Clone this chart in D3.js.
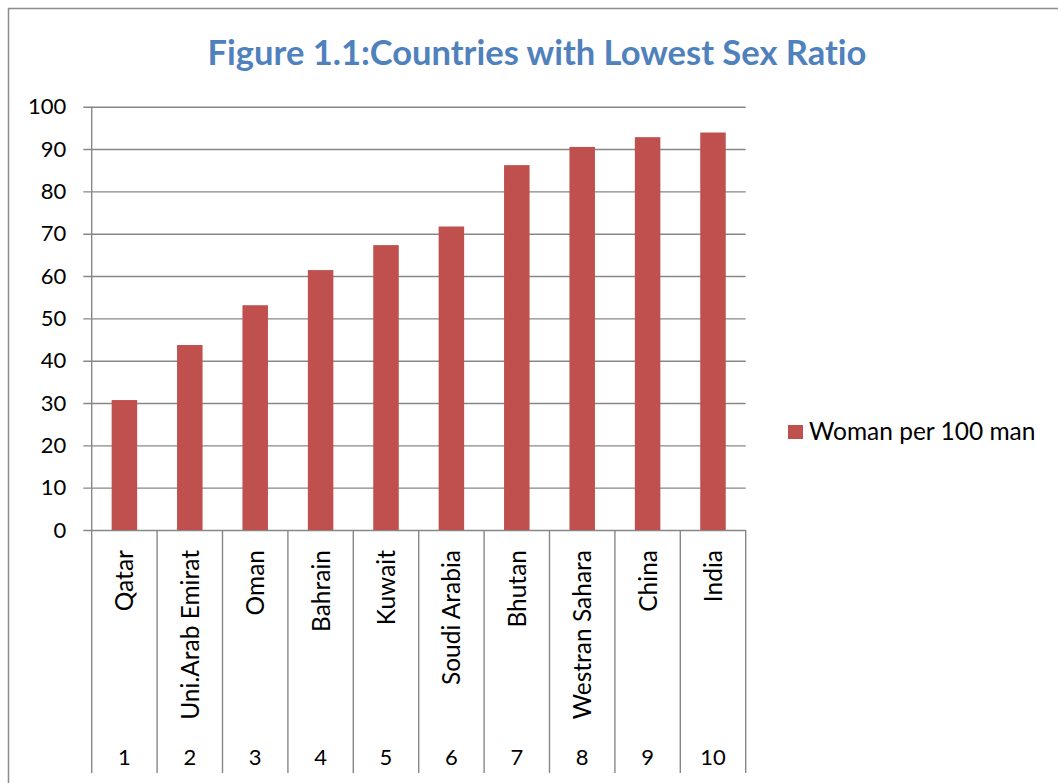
<!DOCTYPE html>
<html>
<head>
<meta charset="utf-8">
<script src="https://cdn.jsdelivr.net/npm/d3@7"></script>
<style>
  html, body { margin: 0; padding: 0; background: #fff; }
  svg { display: block; }
  text { font-family: Lato, "Open Sans", sans-serif; font-variant-ligatures: none; }
</style>
</head>
<body>
<svg id="chart" width="1058" height="783"></svg>
<script>
const title = "Figure 1.1:Countries with Lowest Sex Ratio";
const countries = ["Qatar", "Uni.Arab Emirat", "Oman", "Bahrain", "Kuwait", "Soudi Arabia", "Bhutan", "Westran Sahara", "China", "India"];
const ranks = ["1", "2", "3", "4", "5", "6", "7", "8", "9", "10"];
const values = [30.7, 43.7, 53.1, 61.4, 67.3, 71.7, 86.2, 90.5, 92.8, 93.9];
const yTicks = [0, 10, 20, 30, 40, 50, 60, 70, 80, 90, 100];
const seriesName = "Woman per 100 man";

const svg = d3.select("#chart");
const gridColor = "#878787";
const barColor = "#C0504D";

// outer chart border
svg.append("rect").attr("x", 8.5).attr("y", 8.5).attr("width", 1060).attr("height", 790)
  .attr("fill", "none").attr("stroke", "#8c8c8c").attr("stroke-width", 1.5);

const plot = { left: 91.7, right: 745.7, top: 106.7, bottom: 530 };

const x = d3.scaleBand().domain(countries).range([plot.left, plot.right]).paddingInner(0.61).paddingOuter(0.305);
const xb = d3.scaleBand().domain(countries).range([plot.left, plot.right]);
const y = d3.scaleLinear().domain([0, 100]).range([plot.bottom, plot.top]);

// title
svg.append("text").attr("x", 537).attr("y", 65).attr("text-anchor", "middle")
  .attr("font-size", 34.5).attr("font-weight", "bold").attr("fill", "#4F81BD").text(title);

// y axis with gridlines
const yAxis = d3.axisLeft(y).tickValues(yTicks).tickSize(plot.right - plot.left + 8.4).tickPadding(17).tickFormat(d3.format("d"));
const gy = svg.append("g").attr("transform", `translate(${plot.right},0)`).call(yAxis);
gy.select(".domain").remove();
gy.selectAll(".tick line").attr("stroke", gridColor).attr("stroke-width", 1.4);
gy.selectAll(".tick text").attr("font-size", 22).attr("fill", "#000").attr("font-family", "Lato, sans-serif");

// y axis vertical line
svg.append("line").attr("x1", plot.left).attr("x2", plot.left).attr("y1", plot.top).attr("y2", plot.bottom)
  .attr("stroke", gridColor).attr("stroke-width", 1.4);

// bars
svg.append("g").selectAll("rect").data(values).join("rect")
  .attr("x", (d, i) => x(countries[i]))
  .attr("width", x.bandwidth())
  .attr("y", d => y(d))
  .attr("height", d => y(0) - y(d))
  .attr("fill", barColor);

// category axis (multi-level)
const catBottom = 773;
const boundaries = countries.map(c => xb(c)).concat([plot.right]);
svg.append("g").selectAll("line").data(boundaries).join("line")
  .attr("x1", d => d).attr("x2", d => d).attr("y1", plot.bottom).attr("y2", catBottom)
  .attr("stroke", gridColor).attr("stroke-width", 1.4);

const labels = svg.append("g");
countries.forEach((c, i) => {
  const cx = xb(c) + xb.bandwidth() / 2;
  labels.append("text")
    .attr("transform", `translate(${cx + 9},550) rotate(-90)`)
    .attr("text-anchor", "end").attr("font-size", 24.5).attr("fill", "#000").text(c);
  labels.append("text")
    .attr("x", cx).attr("y", 765).attr("text-anchor", "middle")
    .attr("font-size", 22).attr("fill", "#000").text(ranks[i]);
});

// legend
svg.append("rect").attr("x", 788).attr("y", 425).attr("width", 15).attr("height", 14).attr("fill", barColor);
svg.append("text").attr("x", 809).attr("y", 440).attr("font-size", 24.5).attr("fill", "#000").text(seriesName);
</script>
</body>
</html>
